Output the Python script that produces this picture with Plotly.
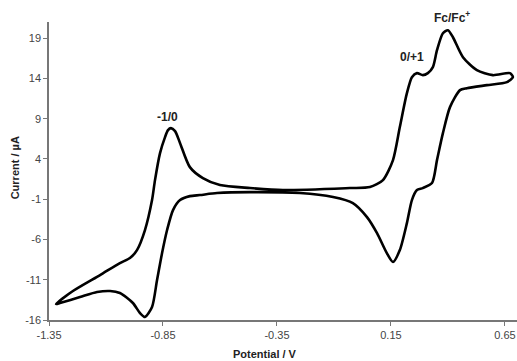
import plotly.graph_objects as go

# Cyclic voltammogram traced as one closed loop (upper branch left->right, lower branch right->left)
potential_V = [
    -1.319, -1.245, -1.126, -1.039, -0.995, -0.964, -0.929, -0.898, -0.885, -0.863,
    -0.841, -0.828, -0.815, -0.797, -0.775, -0.732, -0.675, -0.600, -0.468,
    -0.324, -0.030, 0.058, 0.115, 0.159, 0.189, 0.220, 0.242, 0.264, 0.290,
    0.312, 0.334, 0.352, 0.378, 0.400, 0.422, 0.466, 0.527, 0.597, 0.672, 0.685,
    0.659, 0.571, 0.483, 0.453, 0.409, 0.378, 0.352, 0.330, 0.290, 0.264,
    0.242, 0.220, 0.189, 0.159, 0.132, 0.089, 0.045, -0.017, -0.104, -0.249,
    -0.468, -0.613, -0.688, -0.732, -0.775, -0.806, -0.832, -0.854, -0.876, -0.898,
    -0.929, -0.951, -0.982, -1.039, -1.082, -1.139, -1.214, -1.302, -1.319,
]
current_uA = [
    -14.02, -12.40, -10.42, -8.93, -8.31, -7.32, -4.83, -1.11, 1.37, 4.72,
    6.70, 7.57, 7.82, 7.45, 5.96, 2.98, 1.62, 0.75, 0.38,
    0.13, 0.38, 0.50, 1.37, 3.85, 7.95, 12.16, 14.15, 14.65, 14.40,
    14.65, 15.39, 17.50, 19.60, 19.98, 19.11, 16.63, 15.02, 14.40, 14.65, 14.15,
    13.53, 13.16, 12.78, 12.54, 10.43, 7.20, 3.85, 1.00, 0.38, 0.13,
    -1.11, -3.97, -7.32, -8.80, -7.69, -5.21, -3.22, -1.48, -0.74, -0.24,
    -0.12, -0.24, -0.49, -0.62, -1.11, -2.35, -4.83, -7.69, -11.04, -14.39,
    -15.63, -15.13, -13.89, -12.65, -12.40, -12.53, -13.15, -13.89, -14.02,
]

x_ticks = [-1.35, -0.85, -0.35, 0.15, 0.65]
x_tick_labels = ["-1.35", "-0.85", "-0.35", "0.15", "0.65"]
y_ticks = [-16, -11, -6, -1, 4, 9, 14, 19]
y_tick_labels = ["-16", "-11", "-6", "-1", "4", "9", "14", "19"]

peak_labels = ["-1/0", "0/+1", "Fc/Fc<sup>+</sup>"]
peak_label_x = [-0.828, 0.242, 0.418]
peak_label_ypaper = [0.681, 0.883, 1.017]

FONT = "Arial, Liberation Sans, sans-serif"

fig = go.Figure()
fig.add_trace(go.Scatter(
    x=potential_V, y=current_uA, mode="lines",
    line=dict(color="black", width=2.6, shape="spline", smoothing=0.7),
    showlegend=False, hoverinfo="skip", cliponaxis=False,
))

axis_common = dict(
    showgrid=False, zeroline=False, showline=True, linecolor="#777", linewidth=1.5,
    ticks="outside", ticklen=4, tickcolor="#777", tickwidth=1,
    tickfont=dict(family=FONT, size=11, color="#444"),
)
fig.update_xaxes(range=[-1.35, 0.703], tickvals=x_ticks, ticktext=x_tick_labels,
                 ticklabeloverflow="allow", **axis_common)
fig.update_yaxes(range=[-16, 21], tickvals=y_ticks, ticktext=y_tick_labels, **axis_common)

for txt, xv, yp in zip(peak_labels, peak_label_x, peak_label_ypaper):
    fig.add_annotation(x=xv, y=yp, xref="x", yref="paper", text=f"<b>{txt}</b>",
                       xanchor="center", yanchor="middle",
                       showarrow=False, font=dict(family=FONT, size=12, color="#222"))

fig.add_annotation(x=(265 - 49) / 468, y=-0.114, xref="paper", yref="paper",
                   xanchor="center", yanchor="middle",
                   text="<b>Potential / V</b>", showarrow=False,
                   font=dict(family=FONT, size=11, color="#222"))
fig.add_annotation(x=-0.072, y=0.51, xref="paper", yref="paper",
                   xanchor="center", yanchor="middle",
                   text="<b>Current / µA</b>", showarrow=False, textangle=-90,
                   font=dict(family=FONT, size=11, color="#222"))

fig.update_layout(
    width=517, height=361,
    margin=dict(l=49, r=0, t=22, b=41),
    plot_bgcolor="white", paper_bgcolor="white",
)

fig.write_html("out.html", config={"displayModeBar": False},
               post_script="document.body.style.margin='0px';")
